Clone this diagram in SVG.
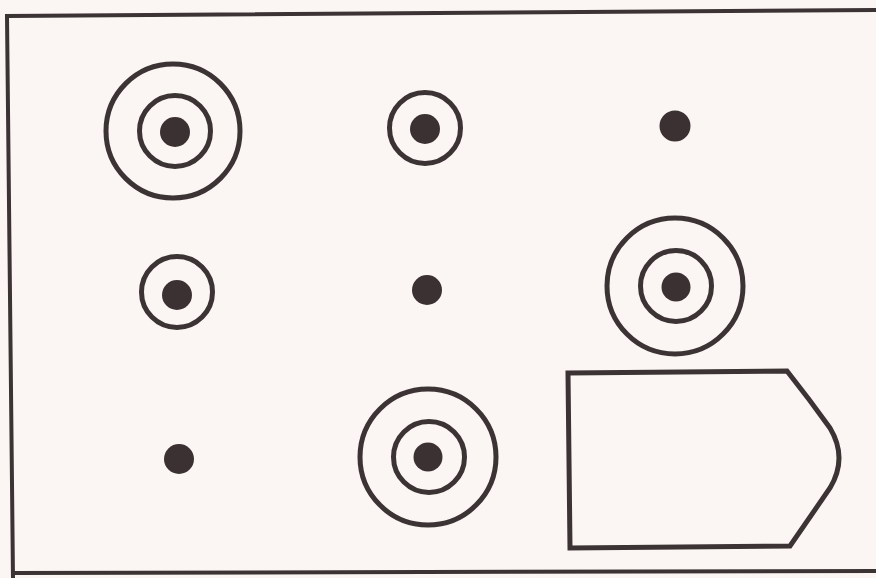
<svg xmlns="http://www.w3.org/2000/svg" width="876" height="578" viewBox="0 0 876 578">
<style>
.ring{fill:none;stroke:#3b3334;stroke-width:5}
.dot{fill:#3b3133}
.edge{fill:none;stroke:#3b3334;stroke-width:4}
</style>
<rect width="876" height="578" fill="#fbf6f4"/>
<g id="frame">
<polyline class="edge" points="876,10 7,16 13,578"/>
<line class="edge" x1="13" y1="573" x2="876" y2="571"/>
</g>
<g id="n1"><circle class="ring" cx="173" cy="131" r="67"/><circle class="ring" cx="175" cy="131" r="35.5"/><circle class="dot" cx="175" cy="132" r="15"/></g>
<g id="n2"><circle class="ring" cx="425" cy="128" r="35.5"/><circle class="dot" cx="425" cy="129" r="15"/></g>
<g id="n3"><circle class="dot" cx="675" cy="126" r="15.5"/></g>
<g id="n4"><circle class="ring" cx="177" cy="292" r="35.5"/><circle class="dot" cx="177" cy="295" r="15"/></g>
<g id="n5"><circle class="dot" cx="427" cy="290" r="15"/></g>
<g id="n6"><circle class="ring" cx="675" cy="286" r="68"/><circle class="ring" cx="676" cy="286" r="35.5"/><circle class="dot" cx="676" cy="287" r="14.5"/></g>
<g id="n7"><circle class="dot" cx="179" cy="459" r="15"/></g>
<g id="n8"><circle class="ring" cx="428" cy="457" r="68"/><circle class="ring" cx="429" cy="457" r="35.5"/><circle class="dot" cx="428" cy="457" r="14.5"/></g>
<g id="n9"><path class="ring" d="M568,373 L787,371 Q810,400 830,428 Q848,458 830,488 L790,546 L570,548 Z" stroke-width="4"/></g>
<g id="connectors"></g>
</svg>
